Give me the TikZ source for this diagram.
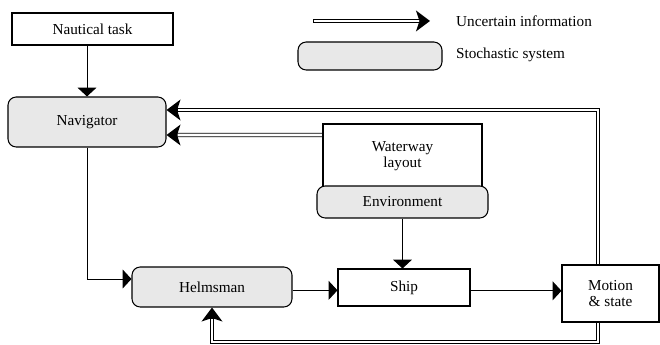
\documentclass[tikz,border=0pt]{standalone}
\usepackage{fontspec}
\setmainfont{Liberation Serif}
\usetikzlibrary{arrows.meta,positioning,calc}

\begin{document}
\begin{tikzpicture}[x=0.03cm,y=-0.03cm,
  every node/.style={font=\fontsize{13}{14}\selectfont},
  plainbox/.style={draw,line width=0.9pt,inner sep=0pt,align=center},
  stoch/.style={plainbox,rounded corners=7pt,fill=black!9},
  arr/.style={-{Triangle[length=7.5pt,width=16pt]},line width=0.8pt},
  unc/.style={draw=black,line width=3.6pt,
              -{Stealth[length=12pt,width=18pt,inset=3pt,line width=0pt]},
              postaction={draw=white,line width=2.2pt,-,
                shorten >=9.5pt,shorten <=0.5pt}}]
  %% Frame (pixel grid, y downwards)
  \useasboundingbox (0,0) rectangle (660,345);
  %% Legend
  \coordinate (lgA) at (313,21);
  \coordinate (lgB) at (430,21);
  \draw[unc] (lgA) -- (lgB);
  \node[anchor=west] (lgunc) at (452,21) {Uncertain information};
  \node[stoch,minimum width=4.32cm,minimum height=0.84cm] (lgbox) at (370,56) {};
  \node[anchor=west] (lgsto) at (452,55) {Stochastic system};
  %% Blocks
  \node[plainbox,minimum width=4.83cm,minimum height=0.96cm] (task)
       at (92.5,29) {Nautical task};
  \node[stoch,minimum width=4.74cm,minimum height=1.5cm] (navigator)
       at (87,122) {Navigator};
  \node[plainbox,minimum width=4.77cm,minimum height=1.92cm] (waterway)
       at (402.5,156) {Waterway\\layout};
  %% Environment overlaps the bottom of the layout box
  \node[stoch,minimum width=5.13cm,minimum height=0.96cm] (environment)
       at (402.5,202) {Environment};
  \node[stoch,minimum width=4.8cm,minimum height=1.2cm] (helmsman)
       at (212,287) {Helmsman};
  \node[plainbox,minimum width=3.96cm,minimum height=1.11cm] (ship)
       at (404,287.5) {Ship};
  \node[plainbox,minimum width=2.91cm,minimum height=1.71cm] (motion)
       at (610.5,293.5) {Motion\\\& state};
  %% Certain signals
  \draw[arr] (navigator.north |- task.south) -- (navigator.north);
  \draw[arr] (navigator.south) |- ([yshift=0.24cm]helmsman.west);
  \draw[arr] ([yshift=-0.1cm]helmsman.east) -- ([yshift=-0.1cm]helmsman.east -| ship.west);
  \draw[arr] (environment.south) -- (environment.south |- ship.north);
  \draw[arr] ([yshift=-0.1cm]ship.east) -- ([yshift=-0.1cm]ship.east -| motion.west);
  %% Uncertain feedback
  \draw[unc] ([xshift=-0.375cm]motion.north) |- ([yshift=0.36cm]navigator.east);
  \draw[unc] ([yshift=0.63cm]waterway.west) -- ([yshift=-0.39cm]navigator.east);
  \coordinate (fbL) at (helmsman.south |- 0,342);
  \draw[unc] ([xshift=-0.375cm]motion.south) |- (fbL) -- (helmsman.south);
\end{tikzpicture}
\end{document}
